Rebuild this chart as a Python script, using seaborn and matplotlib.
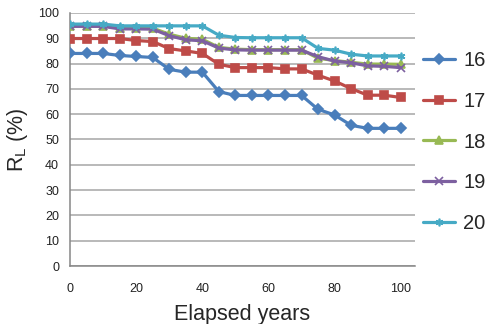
import pandas as pd
import seaborn as sns
import matplotlib.pyplot as plt

years = list(range(0, 101, 5))
s16 = [84, 84, 84, 83.2, 82.8, 82.4, 77.7, 76.6, 76.6, 68.9, 67.4, 67.4, 67.4, 67.4, 67.4, 61.9, 59.7, 55.6, 54.4, 54.4, 54.4]
s17 = [89.9, 89.9, 89.9, 89.9, 89.1, 88.7, 85.9, 85.0, 84.0, 79.7, 78.4, 78.4, 78.4, 77.9, 77.9, 75.4, 73.1, 70.1, 67.5, 67.5, 66.6]
s18 = [95.0, 95.0, 95.0, 94.0, 94.0, 94.0, 91.6, 90.0, 89.6, 86.4, 85.7, 85.5, 85.5, 85.5, 85.5, 82.1, 81.2, 80.5, 79.8, 79.8, 79.7]
s19 = [94.7, 94.7, 94.7, 93.7, 93.7, 93.6, 91.0, 89.4, 89.0, 86.1, 85.4, 85.3, 85.3, 85.3, 85.3, 82.7, 81.0, 80.3, 79.1, 78.9, 78.4]
s20 = [95.6, 95.6, 95.6, 94.9, 94.9, 94.9, 94.9, 94.9, 94.9, 91.2, 90.3, 90.2, 90.2, 90.2, 90.2, 86.0, 85.3, 83.7, 83.0, 83.0, 83.0]
labels = ['16', '17', '18', '19', '20']
colors = ['#4A7EBB', '#BE4B48', '#98B954', '#7D60A0', '#46AAC5']
markers = ['D', 's', '^', 'x', (6, 2, 0)]

if __name__ == '__main__':
    sns.set_style('white')
    plt.rcParams['font.family'] = ['Liberation Sans', 'DejaVu Sans']

    fig = plt.figure(figsize=(4.87, 3.24), dpi=100)
    ax = fig.add_axes([0.144, 0.179, 0.708, 0.781])

    for lab, vals, col, mk in zip(labels, [s16, s17, s18, s19, s20], colors, markers):
        df = pd.DataFrame({'years': years, 'RL': vals})
        sns.lineplot(data=df, x='years', y='RL', color=col, marker=mk, label=lab,
                     linewidth=2.3, markersize=5.5, markeredgewidth=1.2,
                     markeredgecolor=col, ax=ax, zorder=3)

    ax.set_xlim(0, 104.3)
    ax.set_ylim(0, 100)
    ax.set_xticks(range(0, 101, 20))
    ax.set_yticks(range(0, 101, 10))
    ax.yaxis.grid(True, color='#A6A6A6', linewidth=1.1)
    ax.xaxis.grid(False)
    for side in ['top', 'right']:
        ax.spines[side].set_visible(False)
    for side in ['left', 'bottom']:
        ax.spines[side].set_color('#868686')
        ax.spines[side].set_linewidth(1.1)
    ax.tick_params(axis='both', which='both', direction='out', length=4, width=1,
                   color='#868686', labelsize=9, labelcolor='#222222')
    ax.tick_params(axis='y', pad=4)
    ax.tick_params(axis='x', pad=8)

    ax.set_xlabel('Elapsed years', fontsize=15.5, labelpad=7)
    ax.set_ylabel('R$_\\mathregular{L}$ (%)', fontsize=15.5)
    ax.yaxis.set_label_coords(-0.117, 0.5)

    ax.legend(loc='center left', bbox_to_anchor=(1.0, 0.49), frameon=False,
              fontsize=14.5, handlelength=1.6, handletextpad=0.4,
              labelspacing=1.07, borderaxespad=0.0)

    plt.savefig('out.png', dpi=100)
